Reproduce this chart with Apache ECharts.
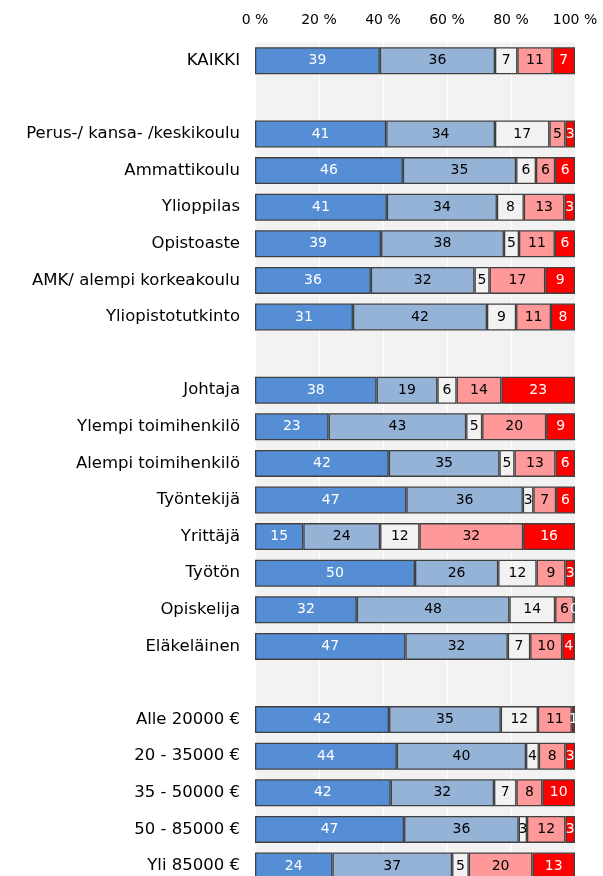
<!DOCTYPE html>
<html>
<head>
<meta charset="utf-8">
<script src="https://cdn.jsdelivr.net/npm/echarts@6/dist/echarts.min.js"></script>
<style>
  html, body { margin: 0; padding: 0; background: #fff; }
  #chart { width: 603px; height: 876px; }
</style>
</head>
<body>
<div id="chart"></div>
<script>
// rivit (tyhjät välirivit ryhmien välissä)
const categories = [
  "KAIKKI", " ",
  "Perus-/ kansa- /keskikoulu", "Ammattikoulu", "Ylioppilas", "Opistoaste",
  "AMK/ alempi korkeakoulu", "Yliopistotutkinto", "  ",
  "Johtaja", "Ylempi toimihenkilö", "Alempi toimihenkilö", "Työntekijä",
  "Yrittäjä", "Työtön", "Opiskelija", "Eläkeläinen", "   ",
  "Alle 20000 €", "20 - 35000 €", "35 - 50000 €", "50 - 85000 €", "Yli 85000 €"
];

// osuudet % (luettu kuvasta, tarrat pyöristetty)
const s1 = [39, null, 41, 46.2, 41.2, 39.4, 36.2, 30.6, null, 38, 23, 41.8, 47.3, 15.1, 50, 31.8, 47, null, 41.9, 44.3, 42.4, 46.6, 24.2];
const s2 = [36, null, 34, 35.4, 34.4, 38.4, 32.4, 41.9, null, 19, 43, 34.6, 36.4, 24.0, 26, 47.7, 32, null, 34.9, 40.4, 32.3, 35.8, 37.4];
const s3 = [7, null, 17, 6.2, 8.4, 4.7, 4.7, 9.1, null, 6, 5, 4.7, 3.3, 12.3, 12, 14.3, 7, null, 11.6, 4.0, 7.0, 2.6, 5.2];
const s4 = [11, null, 5, 6.0, 12.7, 11.2, 17.4, 10.9, null, 14, 20, 12.8, 7.1, 32.4, 9, 5.8, 10, null, 10.6, 8.3, 8.1, 12.0, 19.9];
const s5 = [7, null, 3, 6.2, 3.3, 6.3, 9.3, 7.5, null, 23, 9, 6.1, 5.9, 16.2, 3, 0.4, 4, null, 1.0, 3.0, 10.2, 3.0, 13.3];

const xTicks = [0, 20, 40, 60, 80, 100];

const seriesList = [
  { name: "sarja1", data: s1, color: "#558ed5", text: "#fff" },
  { name: "sarja2", data: s2, color: "#95b3d7", text: "#000" },
  { name: "sarja3", data: s3, color: "#f2f2f2", text: "#000" },
  { name: "sarja4", data: s4, color: "#ff9999", text: "#000" },
  { name: "sarja5", data: s5, color: "#ff0000", text: "#fff" }
];

const chart = echarts.init(document.getElementById("chart"));

const option = {
  animation: false,
  backgroundColor: "#fff",
  grid: {
    left: 255,
    top: 42.5,
    width: 320,
    height: categories.length * 36.6, // jatkuu kuvan alareunan yli
    outerBoundsMode: "none",
    show: true,
    backgroundColor: "#f2f2f2",
    borderWidth: 0
  },
  xAxis: {
    type: "value",
    position: "top",
    min: xTicks[0],
    max: xTicks[xTicks.length - 1],
    interval: 20,
    axisLine: { show: false },
    axisTick: { show: false },
    axisLabel: {
      formatter: "{value} %",
      color: "#000",
      fontFamily: "DejaVu Sans",
      fontSize: 14,
      margin: 15
    },
    splitLine: { show: true, lineStyle: { color: "#fff", width: 1 } }
  },
  yAxis: {
    type: "category",
    inverse: true,
    data: categories,
    axisLine: { show: false },
    axisTick: { show: false },
    axisLabel: {
      color: "#000",
      fontFamily: "DejaVu Sans",
      fontSize: 16.5,
      margin: 15
    }
  },
  series: seriesList.map(s => ({
    name: s.name,
    type: "bar",
    stack: "total",
    barWidth: 27,
    data: s.data,
    itemStyle: {
      color: s.color,
      borderColor: "#404040",
      borderWidth: 1.3
    },
    label: {
      show: true,
      position: "inside",
      color: s.text,
      fontFamily: "DejaVu Sans",
      fontSize: 14,
      formatter: p => (p.value == null ? "" : String(Math.round(p.value)))
    }
  }))
};

chart.setOption(option);
</script>
</body>
</html>
